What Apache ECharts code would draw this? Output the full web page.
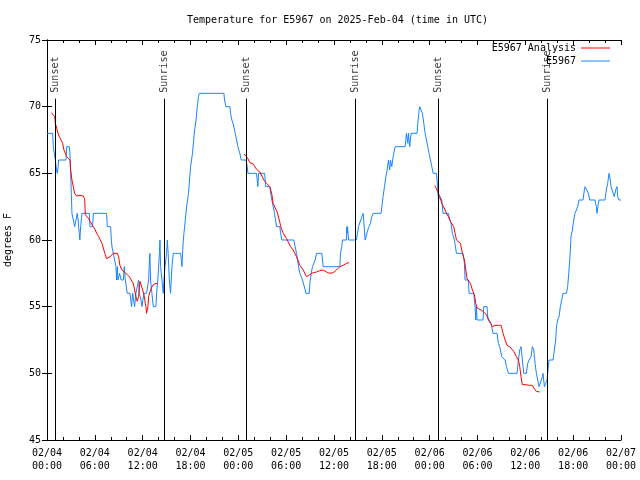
<!DOCTYPE html>
<html>
<head>
<meta charset="utf-8">
<script src="https://cdn.jsdelivr.net/npm/echarts@6/dist/echarts.min.js"></script>
<style>html,body{margin:0;padding:0;background:#fff}#c{width:640px;height:480px}</style>
</head>
<body>
<div id="c"></div>
<script>
// hours since 02/04 00:00 UTC, temperature in degrees F
const observed = [
[0,68],[0.71,68],[0.79,67],[0.96,67],[1.05,66],[1.2,65.2],[1.3,65],[1.4,65.5],[1.46,66],[1.55,66],[2.38,66],[2.47,67],[2.8,67],[2.88,66.5],[2.97,65],[3.05,63.5],[3.13,62],[3.3,62],[3.47,61],[3.72,61],[3.8,62],[3.9,61.5],[3.97,61],[4.05,60.5],[4.12,60],[4.22,61],[4.39,62],[5.31,62],[5.39,61],[5.72,61],[5.81,62],[7.48,62],[7.56,61],[7.98,61],[8.07,60],[8.15,59.5],[8.32,59],[8.48,58.5],[8.65,58],[8.73,57],[8.82,58],[8.9,57],[9.1,57.5],[9.3,57],[9.57,57],[9.7,58],[9.82,57],[10.0,57],[10.07,56],[10.41,56],[10.61,55],[10.75,56],[10.91,56],[10.99,55],[11.15,56],[11.24,56],[11.49,57],[11.58,56],[11.66,56],[11.8,55.5],[11.91,55],[12.16,56],[12.49,56],[12.75,57],[12.85,58.5],[12.91,59],[12.99,57],[13.16,56],[13.33,55],[13.66,55],[13.75,56],[13.9,57],[14.0,58],[14.1,59],
[14.17,60],[14.25,58],[14.42,57],[14.58,56],[14.67,57],[14.8,58],[15.0,59],[15.09,60],[15.2,59],[15.34,57],[15.5,56],[15.58,57],[15.67,58],[15.84,59],[16.76,59],[16.85,58.5],[16.93,58],[17.0,59],[17.1,60],[17.18,60.5],[17.35,61.5],[17.51,62.5],[17.75,63.5],[18.01,65.5],[18.25,66.5],[18.51,68.25],[18.7,69],[18.85,70],[19.0,70.75],[19.1,71],[22.19,71],[22.27,70.5],[22.44,70],[22.94,70],[23.02,69.5],[23.19,69],[23.36,68.7],[23.61,68],[23.78,67.5],[23.94,67],[24.19,66.5],[24.36,66],[24.95,66],[25.03,65.8],[25.12,65.5],[25.2,65],[26.28,65],[26.37,64.5],[26.45,64],[26.53,65],[27.29,65],[27.37,64.5],[27.45,64],[27.95,64],[28.12,63.25],[28.37,62.5],[28.54,62],[28.79,61],[29.21,61],[29.3,60.5],[29.46,60],[30.96,60],[31.13,59.5],[31.3,59],[31.55,58],[31.72,57.5],[32.05,57],[32.39,56.25],[32.47,56],[32.89,56],[32.97,56.75],[33.14,57.5],[33.3,58],[33.64,58.5],[33.81,59],[34.47,59],[34.56,58.5],[34.64,58],[36.73,58],[36.81,59],[36.98,59.5],[37.06,60],[37.57,60],[37.61,61],[37.65,60.5],[37.7,61],[37.82,60],[38.82,60],[39.07,61],[39.5,61.75],[39.66,62],[39.75,61.25],[39.91,60],[40.07,60],[40.24,60.75],[40.4,61],[40.57,61.25],[40.74,61.75],[40.91,62],[41.91,62],[42.0,62.5],[42.16,63.25],[42.33,64],[42.5,64.75],[42.67,65.25],[42.83,66],[42.99,65.25],[43.08,66],[43.25,65.5],[43.42,66.25],[43.58,66.75],[43.67,67],[44.92,67],[45.09,68],[45.26,67.25],[45.34,68],[45.5,67],[45.67,68],[46.42,68],[46.51,68.75],[46.68,69.75],[46.76,70],[46.93,70],[47.09,69.5],[47.26,68.75],[47.43,68],[47.6,67.5],[47.76,67],[47.93,66.5],[48.1,66],[48.27,65.5],[48.43,65],[48.85,65],[48.93,64.5],[49.1,63],[49.27,63.25],[49.52,63],[49.68,62],[50.35,62],[50.52,61.5],[50.68,61.25],[50.85,60.5],[51.1,60],[51.36,59],[52.19,59],[52.36,58.25],[52.44,57],[52.86,57],[52.94,56],[53.53,56],[53.61,55.5],[53.7,55],[53.78,54],[53.86,55],[53.95,54],[54.7,54],[54.78,55],[55.2,55],[55.28,54.25],[55.45,54],[55.7,53.75],[55.95,53],[56.45,53],[56.62,52.25],[56.79,52],[57.04,51.25],[57.46,51],[57.63,50.5],[57.88,50],[58.96,50],[59.13,51],[59.3,51.75],[59.46,52],[59.63,51],[59.8,50],[60.13,50],[60.3,50.75],[60.47,51],[60.72,51.25],[60.88,52],[61.05,51.75],[61.22,50.75],[61.39,50],[61.55,49.5],[61.72,49],[61.97,49],[62.14,49.75],[62.22,50],[62.39,49],[62.56,49],[62.72,49.5],[62.89,50.5],[62.97,51],[63.48,51],[63.64,51.75],[63.81,52.5],[63.9,53.5],[64.06,54],[64.23,54.25],[64.39,55],[64.56,55.5],[64.73,56],[65.15,56],[65.31,56.5],[65.48,57.75],[65.65,59.25],[65.73,60.25],[65.9,60.75],[66.07,61.5],[66.23,62],[66.4,62],[66.57,62.5],[66.73,63],[67.24,63],[67.4,63.75],[67.49,64],[67.74,64],[67.9,63.5],[68.07,63],[68.74,63],[68.91,62.5],[68.99,62],[69.16,62.75],[69.24,63],[69.99,63],[70.16,63.75],[70.33,64.25],[70.5,65],[70.66,64.5],[70.75,64],[71.0,64],[71.16,63.25],[71.33,63.75],[71.5,64],[71.58,63.25],[71.75,63],[72,63]
];
const analysisDay1 = [
[0.54,69.55],[0.79,69.5],[0.96,69.25],[1.05,68.75],[1.21,68.4],[1.38,68],[1.55,67.75],[1.8,67.6],[1.96,67.25],[2.13,66.75],[2.3,66.5],[2.47,66.25],[2.63,66.25],[2.88,66],[2.97,65.25],[3.13,64.5],[3.3,64],[3.47,63.5],[3.72,63.3],[4.14,63.35],[4.55,63.3],[4.72,63.1],[4.81,61.9],[4.97,61.75],[5.22,61.6],[5.39,61.4],[5.64,61.25],[5.81,61],[6.06,60.75],[6.23,60.5],[6.48,60.25],[6.64,60.1],[6.9,59.75],[7.06,59.4],[7.31,58.9],[7.48,58.6],[7.73,58.6],[7.9,58.75],[8.15,58.9],[8.32,59],[8.57,59.05],[8.82,59],[8.98,58.75],[9.15,58.1],[9.4,57.75],[9.57,57.6],[9.82,57.55],[10.07,57.4],[10.32,57.25],[10.57,57.1],[10.82,56.75],[10.99,56.25],[11.16,55.75],[11.32,55.4],[11.49,55.75],[11.66,56.9],[11.83,56.75],[12.0,56.25],[12.16,55.9],[12.33,55.25],[12.41,55.0],[12.49,54.5],[12.58,54.35],[12.66,55],[12.75,55.75],[12.91,56.1],[13.08,56.4],[13.25,56.5],[13.41,56.7],[13.58,56.75],[13.92,56.75]
];
const analysisDay2 = [
[24.7,66.45],[25.11,66.2],[25.45,65.8],[25.87,65.7],[26.28,65.3],[26.7,65.1],[26.95,65],[27.2,64.5],[27.54,64.25],[27.96,64],[28.21,63.4],[28.37,62.75],[28.62,62.4],[28.88,62.1],[29.13,61.5],[29.38,60.9],[29.63,60.5],[30.05,60.1],[30.55,59.5],[30.88,59.25],[31.3,58.75],[31.72,58.1],[32.14,57.75],[32.55,57.25],[32.97,57.4],[33.39,57.55],[33.81,57.6],[34.22,57.7],[34.64,57.75],[35.06,57.6],[35.48,57.5],[35.9,57.55],[36.31,57.75],[36.73,58],[37.15,58.1],[37.57,58.25],[37.9,58.3]
];
const analysisDay3 = [
[48.64,64.1],[48.85,64.05],[49.1,63.5],[49.27,63.25],[49.52,62.75],[49.77,62.6],[49.94,62.25],[50.1,62],[50.35,61.75],[50.6,61.4],[50.85,61.25],[51.02,61],[51.19,60.5],[51.36,60],[51.61,59.9],[51.86,59.75],[52.11,59],[52.36,58.5],[52.53,57.75],[52.69,57.1],[52.94,57],[53.11,56.75],[53.36,56.25],[53.61,55.9],[53.78,55.25],[53.95,54.9],[54.11,54.75],[54.45,54.75],[54.78,54.6],[55.12,54.4],[55.37,54],[55.62,53.75],[55.87,53.5],[56.2,53.6],[56.62,53.6],[56.96,53.6],[57.21,53],[57.46,52.5],[57.71,52.1],[58.04,52],[58.29,51.85],[58.54,51.65],[58.71,51.5],[58.88,51.25],[59.13,51],[59.3,50.5],[59.46,49.75],[59.63,49.15],[59.96,49.15],[60.55,49.1],[60.88,49.1],[61.13,48.85],[61.39,48.65],[61.8,48.6]
];
const sunTimes = [1.05, 14.68, 24.98, 38.68, 49.1, 62.78];
const sunLabels = ['Sunset','Sunrise','Sunset','Sunrise','Sunset','Sunrise'];
const xTickLabels = ['02/04\n00:00','02/04\n06:00','02/04\n12:00','02/04\n18:00','02/05\n00:00','02/05\n06:00','02/05\n12:00','02/05\n18:00','02/06\n00:00','02/06\n06:00','02/06\n12:00','02/06\n18:00','02/07\n00:00'];
const yTicks = [45,50,55,60,65,70,75];

const FONT = 'DejaVu Sans Mono';
const RED = '#ff0000', BLUE = '#1a85ff';
const axisLine = {show:true, lineStyle:{color:'#000', width:1}};
const chart = echarts.init(document.getElementById('c'), null, {renderer:'canvas'});
const redSeries = (d) => ({name:'E5967 Analysis', type:'line', data:d, symbol:'none', showSymbol:false,
  lineStyle:{color:RED, width:1}, itemStyle:{color:RED}, z:4, animation:false});
const legendCommon = {orient:'vertical', align:'right', icon:'rect', itemWidth:29, itemHeight:1, padding:0,
  textStyle:{fontFamily:FONT, fontSize:10, color:'#000'}};
chart.setOption({
  animation:false,
  backgroundColor:'#fff',
  title:{text:'Temperature for E5967 on 2025-Feb-04 (time in UTC)', left:182, top:10,
    textStyle:{fontFamily:FONT, fontSize:10, fontWeight:'normal', color:'#000'}},
  legend:[
    Object.assign({data:['E5967 Analysis'], right:30, top:43}, legendCommon),
    Object.assign({data:['E5967'], right:30, top:56}, legendCommon)
  ],
  grid:{left:47, right:19, top:40, bottom:40, containLabel:false, outerBoundsMode:'none'},
  xAxis:[
    {type:'value', min:0, max:72, interval:6, position:'bottom', axisLine,
     axisTick:{show:true, inside:true, length:5, lineStyle:{color:'#000'}},
     minorTick:{show:true, splitNumber:3, length:3, lineStyle:{color:'#000'}},
     splitLine:{show:false},
     axisLabel:{margin:7, lineHeight:13, fontFamily:FONT, fontSize:10, color:'#000',
       formatter:(v)=> xTickLabels[Math.round(v/6)]}},
    {type:'value', min:0, max:72, interval:6, position:'top', axisLine,
     axisTick:{show:true, inside:true, length:5, lineStyle:{color:'#000'}},
     minorTick:{show:true, splitNumber:3, length:3, lineStyle:{color:'#000'}},
     splitLine:{show:false}, axisLabel:{show:false}}
  ],
  yAxis:[
    {type:'value', min:yTicks[0], max:yTicks[yTicks.length-1], interval:5, position:'left', axisLine,
     axisTick:{show:true, inside:true, length:5, lineStyle:{color:'#000'}},
     splitLine:{show:false},
     name:'degrees F', nameLocation:'middle', nameGap:34, nameRotate:90,
     nameTextStyle:{fontFamily:FONT, fontSize:10, color:'#000'},
     axisLabel:{margin:6, fontFamily:FONT, fontSize:10, color:'#000'}},
    {type:'value', min:yTicks[0], max:yTicks[yTicks.length-1], interval:5, position:'right', axisLine,
     axisTick:{show:true, inside:true, length:5, lineStyle:{color:'#000'}},
     splitLine:{show:false}, axisLabel:{show:false}}
  ],
  series:[
    redSeries(analysisDay1), redSeries(analysisDay2), redSeries(analysisDay3),
    {name:'E5967', type:'line', data:observed, symbol:'none', showSymbol:false,
     lineStyle:{color:BLUE, width:1}, itemStyle:{color:BLUE}, z:3, animation:false},
    {name:'sun', type:'scatter', data:sunTimes.map((h,i)=>({name:sunLabels[i], value:[h,71.05]})),
     symbolSize:1, itemStyle:{color:'transparent'}, z:5, silent:true,
     label:{show:true, position:'inside', rotate:90, align:'left', verticalAlign:'middle',
       formatter:(p)=>p.name, fontFamily:FONT, fontSize:10, color:'#000'},
     markLine:{silent:true, symbol:['none','none'], label:{show:false},
       lineStyle:{color:'#000', width:1, type:'solid'},
       data:sunTimes.map(h=>[{coord:[h,45]},{coord:[h,70.6]}])}}
  ]
});
</script>
</body>
</html>
